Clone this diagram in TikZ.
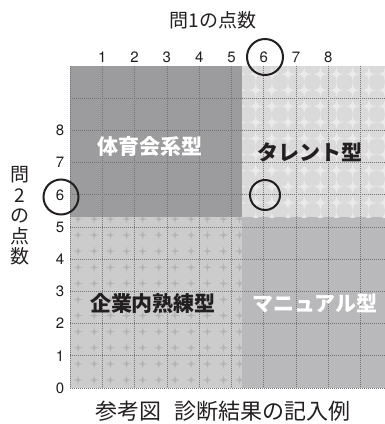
\documentclass[tikz,border=0pt]{standalone}
\usepackage{fontspec}
\setmainfont{TeX Gyre Heros}
\newfontfamily\cjk{Noto Sans CJK JP}
\definecolor{qTL}{HTML}{9C9C9E}
\definecolor{qTR}{HTML}{DADADA}
\definecolor{qTRstar}{HTML}{EBEBEB}
\definecolor{qBL}{HTML}{CCCCCC}
\definecolor{qBLstar}{HTML}{B4B4B4}
\definecolor{qBR}{HTML}{B9B9BB}
\definecolor{ink}{HTML}{231F20}
\tikzset{
  gridline/.style={draw=black!55, line width=0.7pt, dash pattern=on 1pt off 1pt},
  numlabel/.style={font=\fontsize{15}{15}\selectfont, text=ink, inner sep=0pt},
  quadlabel/.style={font=\cjk\bfseries\fontsize{21}{21}\selectfont, inner sep=0pt},
  ring/.style={draw=ink, line width=2pt},
  axistitle/.style={font=\cjk\fontsize{19}{19}\selectfont, text=ink, inner sep=0pt},
}
\begin{document}
\begin{tikzpicture}[x=1pt,y=-1pt]
\useasboundingbox (0,0) rectangle (385,424);
% quadrants
\fill[qTL] (70,66) rectangle (242,217);
\fill[qTR] (242,66) rectangle (385,217);
\fill[qBL] (70,217) rectangle (242,388);
\fill[qBR] (242,217) rectangle (385,388);
% top-right pattern
\begin{scope}
  \clip (242,66) rectangle (385,217);
  \foreach \i in {0,...,19}{
    \foreach \j in {0,...,20}{
      \fill[qTRstar,shift={({78.07+16.15*\i},{379.95-16.1*\j})}]
        (0,-7.5) .. controls (1,-1) .. (7.5,0) .. controls (1,1) .. (0,7.5)
        .. controls (-1,1) .. (-7.5,0) .. controls (-1,-1) .. cycle;
    }
  }
\end{scope}
% bottom-left pattern
\begin{scope}
  \clip (70,217) rectangle (242,388);
  \foreach \i in {0,...,11}{
    \foreach \j in {0,...,11}{
      \fill[qBLstar,shift={({78.07+16.15*\i},{379.95-16.1*\j})}]
        (0,-5) .. controls (0.6,-0.6) .. (5,0) .. controls (0.6,0.6) .. (0,5)
        .. controls (-0.6,0.6) .. (-5,0) .. controls (-0.6,-0.6) .. cycle;
    }
  }
\end{scope}
% grid
\foreach \k in {0,...,9}{
  \draw[gridline] ({70+32.3*\k},66) -- ({70+32.3*\k},388);
  \draw[gridline] (70,{388-32.2*\k}) -- (385,{388-32.2*\k});
}
% column numbers
\foreach \k in {1,...,8}{
  \node[numlabel] (c\k) at ({70+32.3*\k},57) {\k};
}
% row numbers
\foreach \k in {0,...,8}{
  \node[numlabel] (r\k) at (60,{388-32.2*\k}) {\k};
}
% circles
\node[ring, circle, minimum size=36pt, inner sep=0pt] (ctop) at (265,57) {};
\node[ring, circle, minimum size=35pt, inner sep=0pt] (cleft) at (61,197) {};
\node[ring, circle, minimum size=30pt, inner sep=0pt] (cgrid) at (265,195) {};
% titles
\node[axistitle] (t1) at (213,20) {問1の点数};
\node[axistitle, align=center, font=\cjk\fontsize{19}{20.5}\selectfont] (t2) at (20,216) {問\\2\\の\\点\\数};
% quadrant labels
\node[quadlabel, text=white] (qa) at (150,147) {体育会系型};
\node[quadlabel, text=ink] (qb) at (310,152) {タレント型};
\node[quadlabel, text=ink] (qc) at (153,303) {企業内熟練型};
\node[quadlabel, text=white] (qd) at (315,303) {マニュアル型};
% caption
\node[font=\cjk\fontsize{22}{22}\selectfont, text=ink, inner sep=0pt] (cap) at (223,411) {参考図\hspace{0.6em}診断結果の記入例};
\end{tikzpicture}
\end{document}
